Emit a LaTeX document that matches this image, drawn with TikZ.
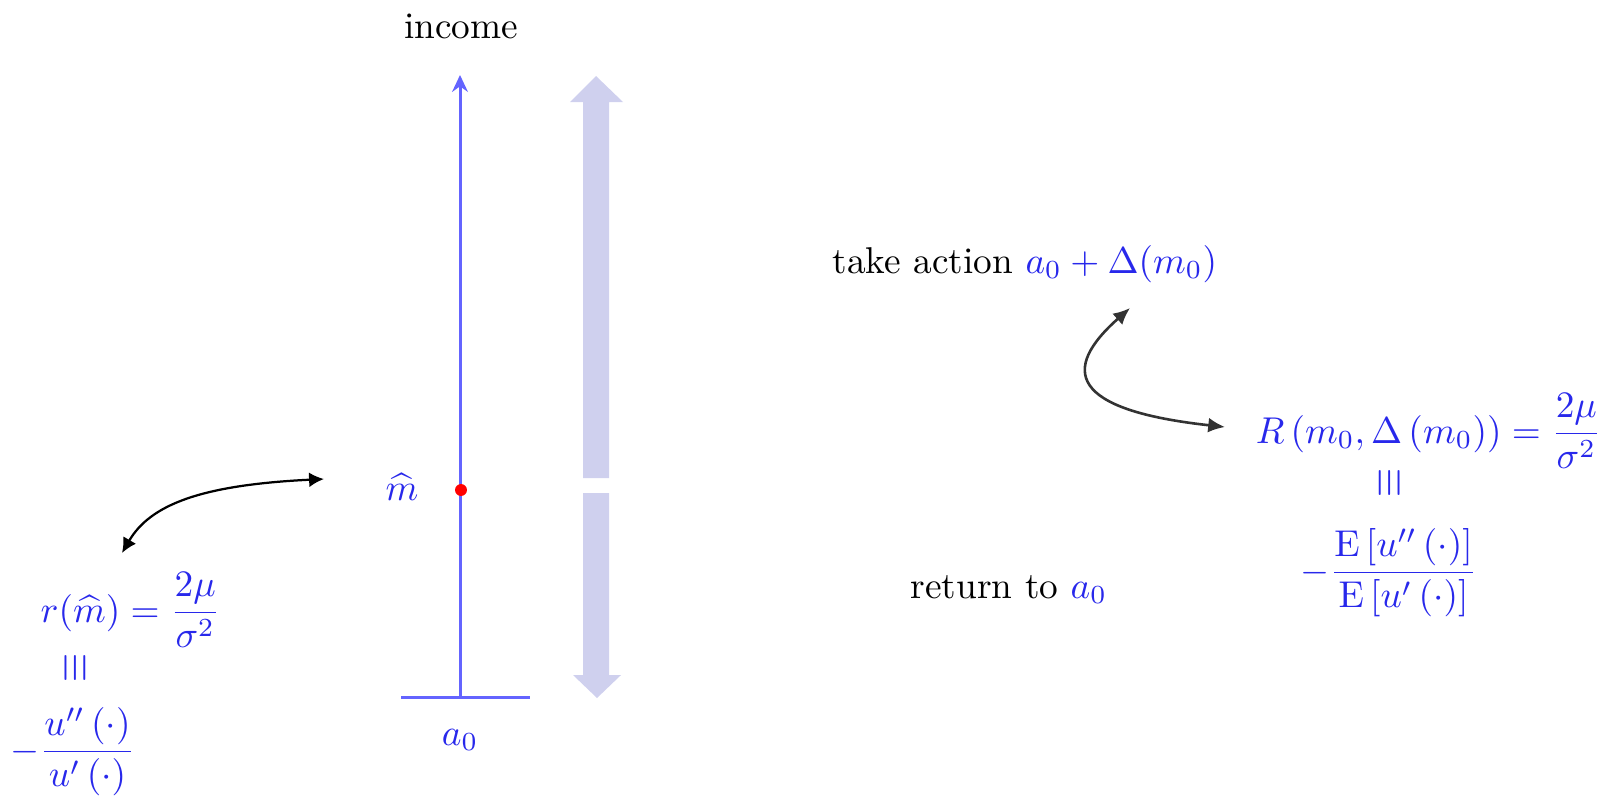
\documentclass[tikz,border=0pt]{standalone}
\usepackage{amsmath}
\usepackage{graphicx}
\usetikzlibrary{arrows.meta}
\definecolor{mathblue}{RGB}{40,40,235}
\definecolor{axisblue}{RGB}{100,100,255}
\definecolor{bandblue}{RGB}{207,208,238}
\definecolor{curvegray}{RGB}{51,51,51}
\newcommand{\vequiv}{\rotatebox{90}{\scalebox{1.0}[1.3]{$\equiv$}}}

\begin{document}
\begin{tikzpicture}[x=0.268pt, y=-0.268pt,
  axis/.style={draw=axisblue, line width=0.8pt},
  mathtext/.style={text=mathblue, inner sep=0pt},
  link/.style={line width=0.6pt, {Latex[length=4pt,width=4pt]}-{Latex[length=4pt,width=4pt]}}]
  \useasboundingbox (0,0) rectangle (1604,798);

  % Income axis
  \node[anchor=base, inner sep=0pt] (income) at (461,38) {income};
  \coordinate (orig) at (460,697);
  \coordinate (top) at (460,75);
  \coordinate (baseL) at (401,697);
  \coordinate (baseR) at (530,697);
  \draw[axis, -{Stealth[length=4.5pt,width=4.2pt]}] (orig) -- (top);
  \draw[axis] (baseL) -- (baseR);
  \node[mathtext, anchor=base] (a0) at (460,745) {$a_0$};
  \node[circle, fill=red, inner sep=0pt, minimum size=3.2pt] (dot) at (461,490) {};
  \node[mathtext, anchor=base] (mhat) at (402,500) {$\widehat{m}$};

  % Wide up and down arrows
  \fill[bandblue] (583,478) -- (583,102) -- (570,102) -- (596,76) -- (623,102) -- (609,102) -- (609,478) -- cycle;
  \fill[bandblue] (583,493) -- (583,675) -- (573,675) -- (597,698) -- (621,675) -- (609,675) -- (609,493) -- cycle;

  % Left side: risk aversion at the threshold
  \node[mathtext, anchor=base west] (rdef) at (40,622) {$r(\widehat{m}) = \dfrac{2\mu}{\sigma^2}$};
  \node[mathtext] (req) at (76,668) {\vequiv};
  \node[mathtext, anchor=base] (rfrac) at (73,761) {$-\dfrac{u''\left(\cdot\right)}{u'\left(\cdot\right)}$};
  \coordinate (lcurveA) at (122,553);
  \coordinate (lcurveB) at (324,479);
  \draw[link, black] (lcurveA) .. controls (150,505) and (200,485) .. (lcurveB);

  % Right side: action and return
  \node[anchor=base west, inner sep=0pt] (take) at (832,273) {take action \textcolor{mathblue}{$a_0 + \Delta(m_0)$}};
  \node[anchor=base west, inner sep=0pt] (ret) at (910,598) {return to \textcolor{mathblue}{$a_0$}};
  \node[mathtext, anchor=base west] (Rdef) at (1255,443) {$R\left(m_0,\Delta\left(m_0\right)\right) = \dfrac{2\mu}{\sigma^2}$};
  \node[mathtext] (Req) at (1390,483) {\vequiv};
  \node[mathtext, anchor=base] (Rfrac) at (1389,582) {$-\dfrac{\mathrm{E}\left[u''\left(\cdot\right)\right]}{\mathrm{E}\left[u'\left(\cdot\right)\right]}$};
  \coordinate (rcurveA) at (1130,308);
  \coordinate (rcurveB) at (1225,427);
  \draw[curvegray, line width=0.7pt, {Latex[length=4.5pt,width=4pt]}-{Latex[length=4.5pt,width=4pt]}] (rcurveA) .. controls (1060,370) and (1070,410) .. (rcurveB);
\end{tikzpicture}
\end{document}
